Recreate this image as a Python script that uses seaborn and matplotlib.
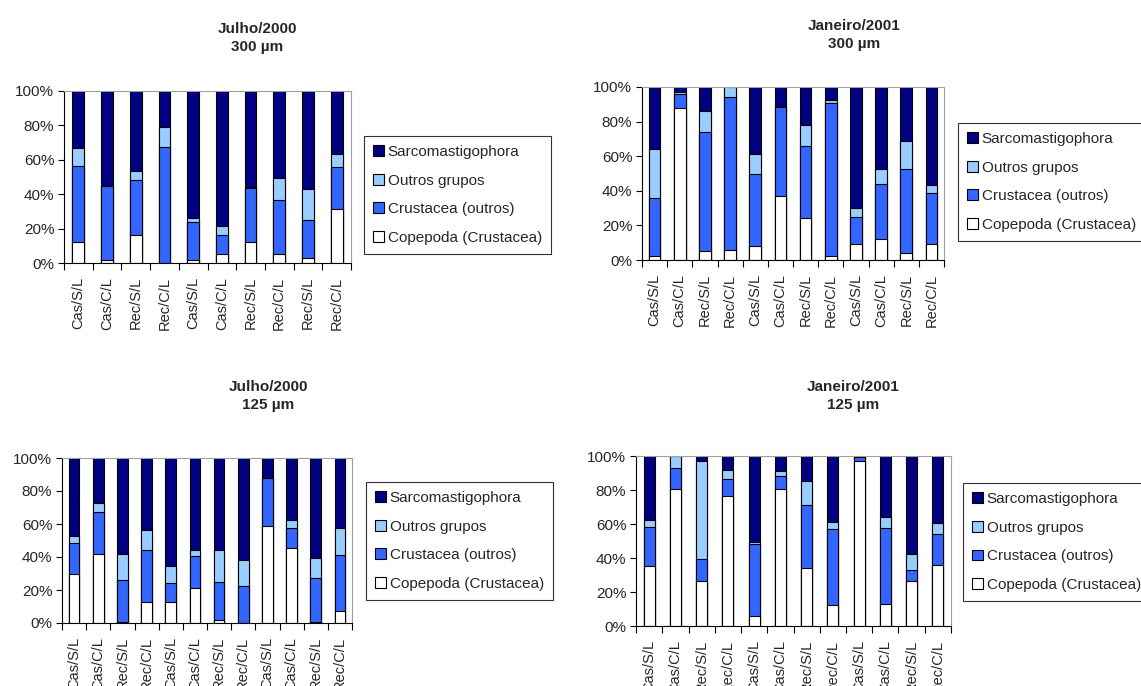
import numpy as np
import pandas as pd
import matplotlib.pyplot as plt
import seaborn as sns
from matplotlib.patches import Patch
from matplotlib.ticker import FuncFormatter

sns.set_style('white')
plt.rcParams['font.family'] = ['Liberation Sans', 'DejaVu Sans']

W, H = 1141, 686

# grupos (ordem da legenda) e cores estilo Excel
grupos = ['Sarcomastigophora', 'Outros grupos', 'Crustacea (outros)', 'Copepoda (Crustacea)']
cores = ['#000080', '#99CCFF', '#3366FF', '#FFFFFF']

# Julho/2000 - 300 um
rot_jul_300 = ['Cas/S/L', 'Cas/C/L', 'Rec/S/L', 'Rec/C/L', 'Cas/S/L',
               'Cas/C/L', 'Rec/S/L', 'Rec/C/L', 'Rec/S/L', 'Rec/C/L']
cop_jul_300 = [12, 1.5, 16, 0, 1.5, 5.5, 12, 5.5, 3, 31.5]
cru_jul_300 = [44.5, 43, 32, 67.5, 22.5, 10.5, 31.5, 31, 22, 24.5]
out_jul_300 = [10.5, 0, 5.5, 11.5, 2, 5.5, 0.5, 13, 18, 7.5]
sar_jul_300 = [33, 55.5, 46.5, 21, 74, 78.5, 56, 50.5, 57, 36.5]

# Janeiro/2001 - 300 um
rot_jan_300 = ['Cas/S/L', 'Cas/C/L', 'Rec/S/L', 'Rec/C/L'] * 3
cop_jan_300 = [2.5, 88, 5, 5.5, 8, 37, 24, 2.5, 9.5, 12, 4, 9]
cru_jan_300 = [33.5, 8, 69, 89, 41.5, 51.5, 42, 88, 15.5, 32, 48.5, 29.5]
out_jan_300 = [28, 1, 12, 5.5, 12, 0, 12, 2, 5, 8.5, 16, 5]
sar_jan_300 = [36, 3, 14, 0, 38.5, 11.5, 22, 7.5, 70, 47.5, 31.5, 56.5]

# Julho/2000 - 125 um
rot_jul_125 = ['Cas/S/L', 'Cas/C/L', 'Rec/S/L', 'Rec/C/L'] * 3
cop_jul_125 = [30, 42, 0.5, 13, 13, 21.5, 2, 0, 58.5, 45.5, 0.5, 7.5]
cru_jul_125 = [18.5, 25.5, 25.5, 31, 11, 19, 23, 22.5, 29.5, 12, 26.5, 34]
out_jul_125 = [4.5, 5, 16, 12.5, 10.5, 4, 19.5, 15.5, 0, 5, 12.5, 16]
sar_jul_125 = [47, 27.5, 58, 43.5, 65.5, 55.5, 55.5, 62, 12, 37.5, 60.5, 42.5]

# Janeiro/2001 - 125 um
rot_jan_125 = ['Cas/S/L', 'Cas/C/L', 'Rec/S/L', 'Rec/C/L'] * 3
cop_jan_125 = [35.5, 80.5, 26.5, 76.5, 6, 80.5, 34, 12.5, 97, 13, 26.5, 36]
cru_jan_125 = [22.5, 12.5, 13, 10, 42, 8, 37, 44.5, 2.5, 44.5, 6.5, 18]
out_jan_125 = [4.5, 7, 57.5, 5.5, 1.5, 2.5, 14.5, 4, 0, 6.5, 9.5, 6.5]
sar_jan_125 = [37.5, 0, 3, 8, 50.5, 9, 14.5, 39, 0.5, 36, 57.5, 39.5]


def px_rect(x0, x1, y0, y1):
    return [x0 / W, 1 - y1 / H, (x1 - x0) / W, (y1 - y0) / H]


def painel(fig, rect, rotulos, cop, cru, out, sar, titulo, tpos, legpos, largura):
    ax = fig.add_axes(rect)
    df = pd.DataFrame({'pos': range(len(rotulos)), 'cop': cop, 'cru': cru,
                       'out': out, 'sar': sar})
    # empilhado: desenha os acumulados de cima para baixo
    camadas = [df[['cop', 'cru', 'out', 'sar']].sum(axis=1),
               df[['cop', 'cru', 'out']].sum(axis=1),
               df[['cop', 'cru']].sum(axis=1),
               df['cop']]
    for valores, cor in zip(camadas, cores):
        sns.barplot(x=df['pos'], y=valores, color=cor, saturation=1,
                    width=largura, edgecolor='black', linewidth=0.8,
                    errorbar=None, ax=ax)
    n = len(rotulos)
    ax.set_xlim(-0.5, n - 0.5)
    ax.set_ylim(0, 100)
    ax.set_xlabel('')
    ax.set_ylabel('')
    ax.set_yticks(range(0, 101, 20))
    ax.yaxis.set_major_formatter(FuncFormatter(lambda v, p: f'{v:.0f}%'))
    ax.set_xticks(range(n))
    ax.set_xticklabels(rotulos, rotation=90, fontsize=10.5)
    ax.set_xticks(np.arange(n + 1) - 0.5, minor=True)
    ax.tick_params(axis='x', which='major', length=0, pad=10)
    ax.tick_params(axis='x', which='minor', length=5, width=0.8,
                   direction='out', bottom=True, color='black')
    ax.tick_params(axis='y', length=4, width=0.8, direction='out', left=True,
                   labelsize=11, pad=3, color='black')
    for s in ['left', 'bottom']:
        ax.spines[s].set_color('black')
        ax.spines[s].set_linewidth(0.8)
    for s in ['top', 'right']:
        ax.spines[s].set_color('#a0a0a0')
        ax.spines[s].set_linewidth(0.8)

    fig.text(tpos[0] / W, 1 - tpos[1] / H, titulo, ha='center', va='center',
             fontsize=11, fontweight='bold', linespacing=1.4)

    handles = [Patch(facecolor=c, edgecolor='black', linewidth=0.8) for c in cores]
    leg = ax.legend(handles, grupos, loc='upper left',
                    bbox_to_anchor=(legpos[0] / W, 1 - legpos[1] / H),
                    bbox_transform=fig.transFigure, frameon=True, fancybox=False,
                    fontsize=11, handlelength=0.7, handleheight=0.7,
                    handletextpad=0.25, labelspacing=0.95, borderpad=0.6,
                    borderaxespad=0)
    leg.get_frame().set_edgecolor('black')
    leg.get_frame().set_linewidth(0.8)
    return ax


fig = plt.figure(figsize=(W / 100, H / 100), dpi=100)

painel(fig, px_rect(64, 351, 91, 263), rot_jul_300, cop_jul_300, cru_jul_300,
       out_jul_300, sar_jul_300, 'Julho/2000\n300 µm', (257, 38), (364, 136), 0.41)
painel(fig, px_rect(642, 944, 87, 260), rot_jan_300, cop_jan_300, cru_jan_300,
       out_jan_300, sar_jan_300, 'Janeiro/2001\n300 µm', (854, 35), (958, 123), 0.46)
painel(fig, px_rect(62, 352, 458, 623), rot_jul_125, cop_jul_125, cru_jul_125,
       out_jul_125, sar_jul_125, 'Julho/2000\n125 µm', (268, 396), (366, 482), 0.44)
painel(fig, px_rect(636, 951, 456, 626), rot_jan_125, cop_jan_125, cru_jan_125,
       out_jan_125, sar_jan_125, 'Janeiro/2001\n125 µm', (853, 396), (963, 483), 0.41)

fig.savefig('out.png', dpi=100)
